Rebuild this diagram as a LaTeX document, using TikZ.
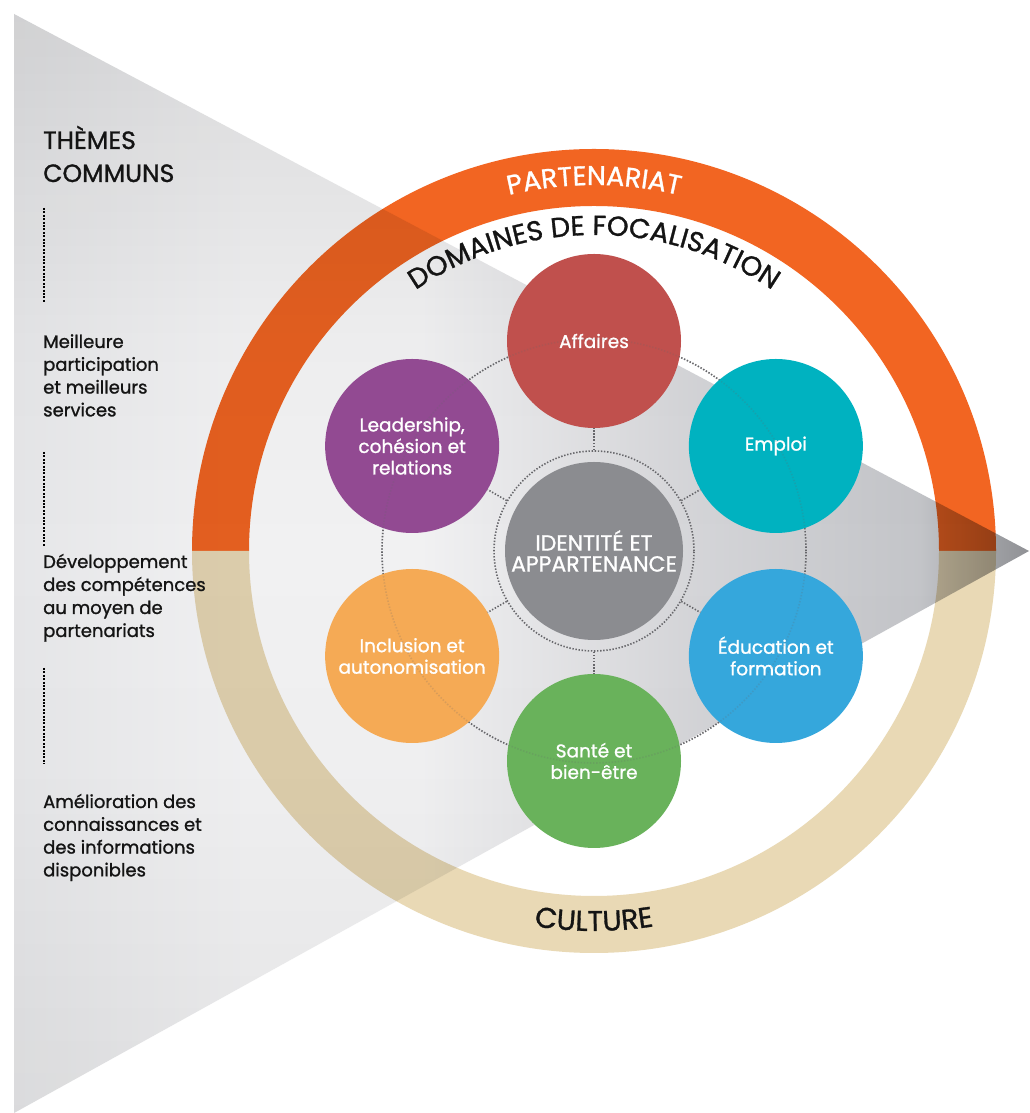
\documentclass[tikz,border=0pt]{standalone}
\usepackage{fontspec}
\setmainfont{Poppins}[FakeBold=1.1]
\usetikzlibrary{decorations.text}

\definecolor{ringorange}{HTML}{F26522}
\definecolor{ringtan}{HTML}{E9D9B5}
\definecolor{affred}{HTML}{C0504D}
\definecolor{empteal}{HTML}{00B2C0}
\definecolor{edublue}{HTML}{35A7DC}
\definecolor{santegreen}{HTML}{69B25B}
\definecolor{inclorange}{HTML}{F5AA55}
\definecolor{leadpurple}{HTML}{924A92}
\definecolor{centergray}{HTML}{8B8C90}
\definecolor{dotgray}{HTML}{66666A}
\definecolor{textblack}{HTML}{141414}

\pgfdeclarehorizontalshading{trishadeh}{100bp}{%
  rgb(0bp)=(.90,.902,.91);
  rgb(25bp)=(.90,.902,.91);
  rgb(36.6bp)=(.945,.945,.95);
  rgb(45bp)=(.945,.945,.95);
  rgb(58.8bp)=(.83,.832,.845);
  rgb(69.6bp)=(.765,.77,.785);
  rgb(73.6bp)=(.61,.615,.63);
  rgb(75bp)=(.565,.57,.585);
  rgb(100bp)=(.565,.57,.585)}
\pgfdeclareverticalshading{trishadev}{100bp}{%
  rgb(0bp)=(.95,.95,.95);
  rgb(25bp)=(.95,.95,.95);
  rgb(40bp)=(.99,.99,.99);
  rgb(50.6bp)=(1,1,1);
  rgb(60bp)=(.985,.985,.985);
  rgb(75bp)=(.91,.91,.91);
  rgb(100bp)=(.91,.91,.91)}

\tikzset{
  dots/.style={draw=dotgray, line width=1.6pt, dash pattern=on 1.4pt off 1.7pt},
  leftdots/.style={draw=black, line width=2pt, dash pattern=on 2pt off 1.4pt},
  focus/.style={circle, minimum size=174pt, inner sep=0pt, text=white, align=center,
    font=\fontsize{18.5}{21.5}\selectfont},
  core/.style={circle, minimum size=178pt, inner sep=0pt, fill=centergray, text=white, align=center,
    font=\fontsize{22}{21}\selectfont},
  leftlabel/.style={anchor=base west, inner sep=0pt, text=textblack},
}

\begin{document}
\begin{tikzpicture}[x=1pt,y=1pt]
\useasboundingbox (0,0) rectangle (1029,1113);
\fill[white] (0,0) rectangle (1029,1113);
\coordinate (C) at (594,562);

% ring
\fill[ringorange] (996,562) arc[start angle=0,end angle=180,radius=402]
  -- (249,562) arc[start angle=180,end angle=0,radius=345] -- cycle;
\fill[ringtan] (996,562) arc[start angle=0,end angle=-180,radius=402]
  -- (249,562) arc[start angle=180,end angle=360,radius=345] -- cycle;

% triangle
\begin{scope}[blend mode=multiply]
\shade[shading=trishadeh] (14,1099) -- (14,0) -- (1029,562) -- cycle;
\shade[shading=trishadev] (14,1099) -- (14,0) -- (1029,562) -- cycle;
\end{scope}

% ring labels
\path[decorate, decoration={text along path, text align=center, text color=white,
  text={|\fontsize{27}{27}\selectfont|PARTENARIAT}}]
  ([shift={(135:366)}]C) arc[start angle=135,end angle=45,radius=366];
\path[decorate, decoration={text along path, text align=center, text color=textblack,
  text={|\fontsize{28.5}{28.5}\selectfont|CULTURE}}]
  ([shift={(235:380)}]C) arc[start angle=235,end angle=305,radius=380];
\path[decorate, decoration={text along path, text align=center, text color=textblack,
  text={|\fontsize{27.5}{27.5}\selectfont|DOMAINES DE FOCALISATION}}]
  ([shift={(150:316)}]C) arc[start angle=150,end angle=30,radius=316];

% dotted orbits
\node[circle, minimum size=424pt, inner sep=0pt, dots] (orbit) at (C) {};
\node[circle, minimum size=200pt, inner sep=0pt, dots] (inner) at (C) {};

% focus circles
\node[focus, fill=affred] (aff) at ([shift={(90:210)}]C) {Affaires};
\node[focus, fill=empteal] (emp) at ([shift={(30:210)}]C) {Emploi};
\node[focus, fill=edublue] (edu) at ([shift={(-30:210)}]C) {Éducation et\\formation};
\node[focus, fill=santegreen] (san) at ([shift={(-90:210)}]C) {Santé et\\bien-être};
\node[focus, fill=inclorange] (inc) at ([shift={(-150:210)}]C) {Inclusion et\\autonomisation};
\node[focus, fill=leadpurple] (lead) at ([shift={(150:210)}]C) {Leadership,\\cohésion et\\relations};
\node[core] (id) at (C) {IDENTITÉ ET\\APPARTENANCE};

% faint orbit through circles
\draw[dots, draw opacity=0.2] (C) circle[radius=212];

% connectors
\draw[dots] (inner.90) -- (aff.-90);
\draw[dots] (inner.30) -- (emp.210);
\draw[dots] (inner.-30) -- (edu.150);
\draw[dots] (inner.-90) -- (san.90);
\draw[dots] (inner.-150) -- (inc.30);
\draw[dots] (inner.150) -- (lead.-30);

% left column
\node[leftlabel, font=\fontsize{25}{33}\selectfont] (themes) at (43,964)
  {\begin{tabular}[t]{@{}l@{}}THÈMES\\COMMUNS\end{tabular}};
\draw[leftdots] (44,905) -- (44,810);
\node[leftlabel, font=\fontsize{18}{22.8}\selectfont] (t1) at (43,765)
  {\begin{tabular}[t]{@{}l@{}}Meilleure\\participation\\et meilleurs\\services\end{tabular}};
\draw[leftdots] (44,661) -- (44,566);
\node[leftlabel, font=\fontsize{18}{23}\selectfont] (t2) at (43,545)
  {\begin{tabular}[t]{@{}l@{}}Développement\\des compétences\\au moyen de\\partenariats\end{tabular}};
\draw[leftdots] (44,445) -- (44,349);
\node[leftlabel, font=\fontsize{18}{22.8}\selectfont] (t3) at (43,305)
  {\begin{tabular}[t]{@{}l@{}}Amélioration des\\connaissances et\\des informations\\disponibles\end{tabular}};
\end{tikzpicture}
\end{document}
